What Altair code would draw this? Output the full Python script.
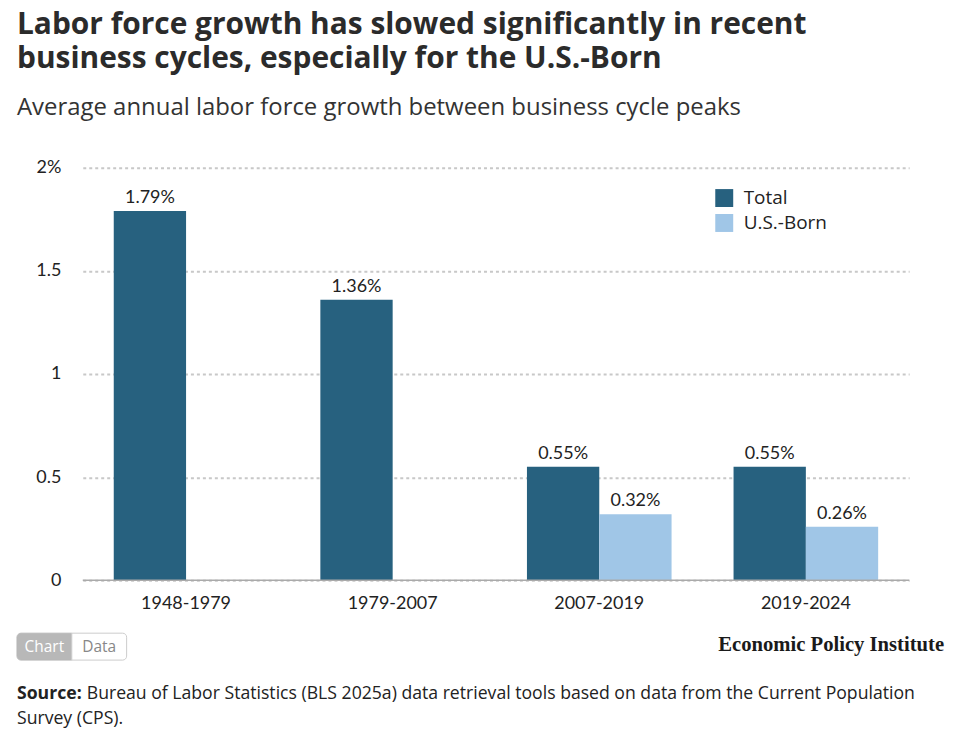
import altair as alt
import pandas as pd

periods = ["1948-1979", "1979-2007", "2007-2019", "2019-2024"]
total = [1.79, 1.36, 0.55, 0.55]
us_born = [None, None, 0.32, 0.26]
series = ["Total", "U.S.-Born"]
colors = ["#27617f", "#a0c6e7"]

rows = []
for p, t, u in zip(periods, total, us_born):
    rows.append({"period": p, "series": "Total", "value": t})
    if u is not None:
        rows.append({"period": p, "series": "U.S.-Born", "value": u})
df = pd.DataFrame(rows)
df["label"] = df["value"].map(lambda v: f"{v:.2f}%")

NUM = "Lato"
TXT = "Open Sans"
W, H = 829, 414

x = alt.X("period:N", sort=periods, title=None,
          scale=alt.Scale(paddingInner=0.3, paddingOuter=0.15),
          axis=alt.Axis(labelAngle=0, labelFontSize=18, labelColor="#222",
                        labelFont=NUM, labelPadding=14, ticks=False,
                        domain=False, grid=False))
xo = alt.XOffset("series:N", sort=series,
                 scale=alt.Scale(domain=series, paddingInner=0, paddingOuter=0))
y = alt.Y("value:Q", title=None,
          scale=alt.Scale(domain=[0, 2], nice=False),
          axis=alt.Axis(values=[0, 0.5, 1, 1.5, 2],
                        labelExpr="datum.value == 2 ? '2%' : '' + datum.value",
                        labelFontSize=18, labelColor="#222", labelFont=NUM,
                        labelPadding=22, ticks=False, domain=False,
                        grid=True, gridColor="#c8c8c8", gridDash=[3, 3],
                        gridWidth=2))

bars = alt.Chart(df).mark_bar().encode(
    x=x, xOffset=xo, y=y,
    color=alt.Color("series:N", sort=series,
                    scale=alt.Scale(domain=series, range=colors),
                    legend=alt.Legend(title=None, orient="none",
                                      legendX=634, legendY=21,
                                      symbolType="square", symbolSize=324,
                                      symbolStrokeWidth=0,
                                      labelFontSize=19, labelFont=TXT,
                                      labelColor="#222", labelOffset=10,
                                      rowPadding=5, padding=0)),
)

labels = alt.Chart(df).mark_text(dy=-4, fontSize=18, font=NUM, color="#222",
                                 baseline="bottom").encode(
    x=alt.X("period:N", sort=periods),
    xOffset=alt.XOffset("series:N", sort=series),
    y="value:Q",
    text="label:N",
)

# zero baseline
zero = alt.Chart(pd.DataFrame({"v": [0]})).mark_rule(color="#aaaaaa", strokeWidth=1.5).encode(y="v:Q")

one = pd.DataFrame({"a": [0]})
btn_l = alt.Chart(one).mark_rect(
    fill="#b8b8b8", stroke="#b8b8b8", cornerRadiusTopLeft=4, cornerRadiusBottomLeft=4
).encode(x=alt.value(-66), x2=alt.value(-11), y=alt.value(467), y2=alt.value(494))
btn_r = alt.Chart(one).mark_rect(
    fill="#ffffff", stroke="#cccccc", cornerRadiusTopRight=4, cornerRadiusBottomRight=4
).encode(x=alt.value(-11), x2=alt.value(44), y=alt.value(467), y2=alt.value(494))
t_chart = alt.Chart(one).mark_text(text="Chart", font=TXT, fontSize=15.5,
                                   color="#ffffff", align="center", baseline="middle").encode(
    x=alt.value(-38.5), y=alt.value(480.5))
t_data = alt.Chart(one).mark_text(text="Data", font=TXT, fontSize=15.5,
                                  color="#888888", align="center", baseline="middle").encode(
    x=alt.value(16.5), y=alt.value(480.5))
epi = alt.Chart(one).mark_text(text="Economic Policy Institute", font="Liberation Serif",
                               fontWeight="bold", fontSize=20.7, color="#1a1a1a",
                               align="right", baseline="alphabetic").encode(
    x=alt.value(864), y=alt.value(485))
src_b = alt.Chart(one).mark_text(text="Source:", font=TXT, fontWeight="bold",
                                 fontSize=17.7, color="#222", align="left",
                                 baseline="alphabetic").encode(
    x=alt.value(-66), y=alt.value(533))
src_1 = alt.Chart(one).mark_text(
    text="Bureau of Labor Statistics (BLS 2025a) data retrieval tools based on data from the Current Population",
    font=TXT, fontSize=17.7, color="#222", align="left", baseline="alphabetic").encode(
    x=alt.value(4), y=alt.value(533))
src_2 = alt.Chart(one).mark_text(
    text="Survey (CPS).", font=TXT, fontSize=17.7, color="#222", align="left",
    baseline="alphabetic").encode(x=alt.value(-66), y=alt.value(558))

chart = alt.layer(
    bars, labels, zero, btn_l, btn_r, t_chart, t_data, epi, src_b, src_1, src_2
).properties(
    width=W, height=H,
    title=alt.TitleParams(
        text=["Labor force growth has slowed significantly in recent",
              "business cycles, especially for the U.S.-Born"],
        subtitle="Average annual labor force growth between business cycle peaks",
        anchor="start", frame="group", dx=-66, offset=39,
        font=TXT, fontSize=30, fontWeight="bold", color="#2b2b2b", lineHeight=34,
        subtitleFont=TXT, subtitleFontSize=24, subtitleColor="#333",
        subtitlePadding=22,
    ),
    padding={"left": 75, "top": 159, "right": 50, "bottom": 160},
    autosize=alt.AutoSizeParams(type="none"),
).configure(background="#ffffff").configure_view(strokeWidth=0, stroke="transparent")

chart.save("out.html", embed_options={"renderer": "svg", "actions": False})
